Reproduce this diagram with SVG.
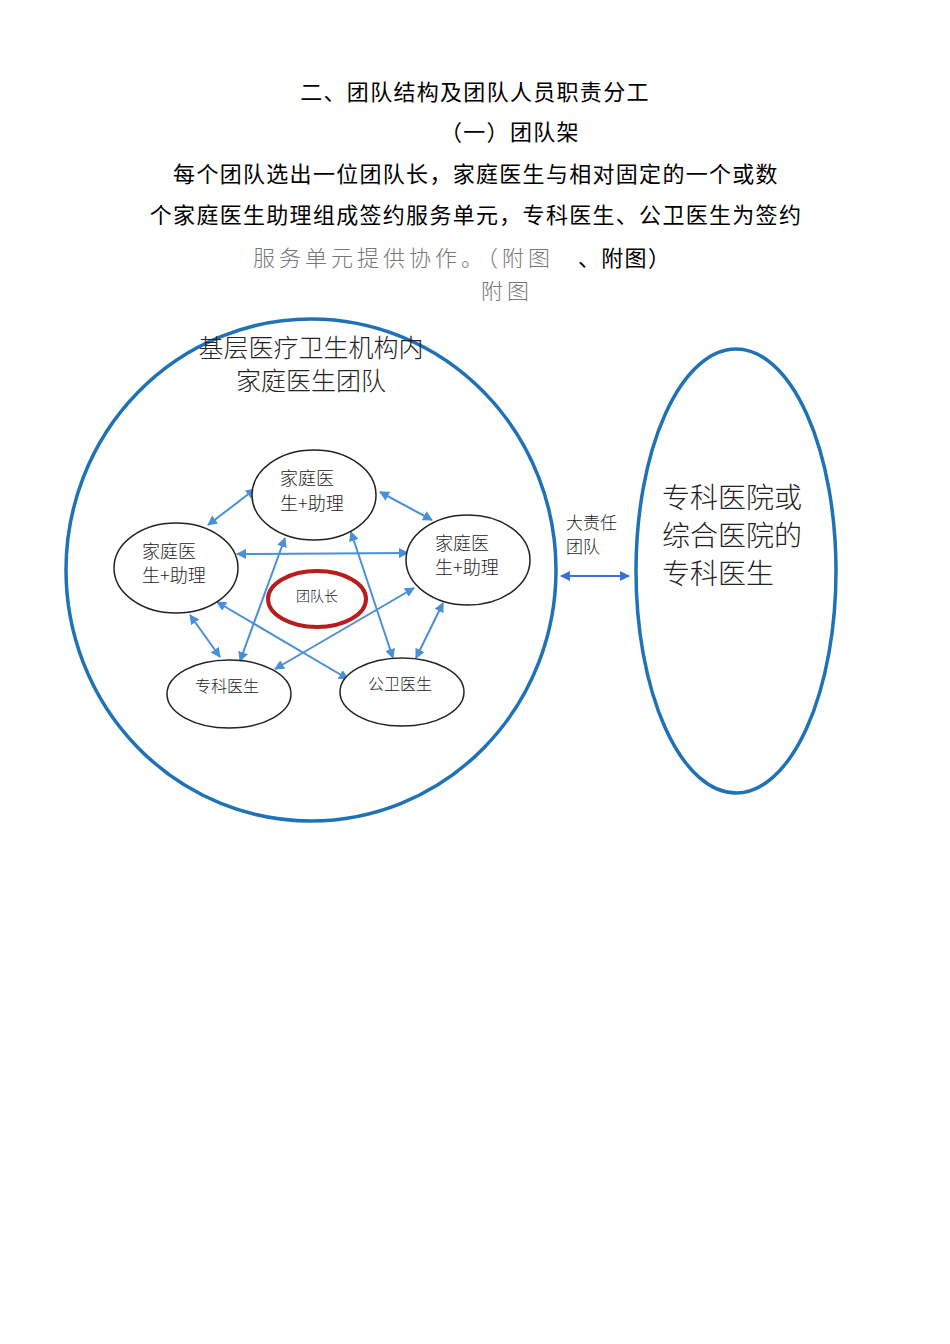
<svg xmlns="http://www.w3.org/2000/svg" width="950" height="1344" viewBox="0 0 950 1344">
<style>
.h{font-family:"Noto Sans CJK SC","Noto Sans",sans-serif;font-size:22px;fill:#000;font-weight:400;letter-spacing:1.3px;}
.g{font-family:"Noto Sans CJK SC","Noto Sans",sans-serif;font-size:22px;fill:#777;font-weight:300;letter-spacing:4px;}
.t{font-family:"Noto Sans CJK SC","Noto Sans",sans-serif;fill:#222;font-weight:300;}
.node{fill:#fff;stroke:#222;stroke-width:1.5;}
.conn{stroke:#4a90d9;stroke-width:2;fill:none;marker-start:url(#ah);marker-end:url(#ah);}
</style>
<defs>
<marker id="ah" viewBox="0 0 10 10" refX="9" refY="5" markerWidth="5" markerHeight="5" orient="auto-start-reverse" markerUnits="strokeWidth">
<path d="M0,0 L10,5 L0,10 z" fill="#4a90d9"/>
</marker>
<marker id="ah2" viewBox="0 0 10 10" refX="9" refY="5" markerWidth="4.5" markerHeight="4.5" orient="auto-start-reverse" markerUnits="strokeWidth">
<path d="M0,0 L10,5 L0,10 z" fill="#3b6fd8"/>
</marker>
</defs>
<rect width="950" height="1344" fill="#fff"/>
<g id="header">
<text class="h" x="475" y="100" text-anchor="middle">二、团队结构及团队人员职责分工</text>
<text class="h" x="440" y="140">（一）团队架</text>
<text class="h" x="476" y="182" text-anchor="middle">每个团队选出一位团队长，家庭医生与相对固定的一个或数</text>
<text class="h" x="476" y="223" text-anchor="middle">个家庭医生助理组成签约服务单元，专科医生、公卫医生为签约</text>
<text class="g" x="253" y="266">服务单元提供协作。（附图</text>
<text class="h" x="578" y="266">、附图）</text>
<text class="g" x="481" y="299">附图</text>
</g>
<g id="outer-team">
<ellipse cx="311" cy="570" rx="245" ry="251" fill="none" stroke="#1f72b8" stroke-width="3.5"/>
<text class="t" font-size="25" x="311" y="357" text-anchor="middle">基层医疗卫生机构内</text>
<text class="t" font-size="25" x="311" y="390" text-anchor="middle">家庭医生团队</text>
</g>
<g id="specialist-hospital">
<ellipse cx="736" cy="571" rx="100" ry="222" fill="none" stroke="#1f72b8" stroke-width="3.5"/>
<text class="t" font-size="28" x="662" y="508">专科医院或</text>
<text class="t" font-size="28" x="662" y="546">综合医院的</text>
<text class="t" font-size="28" x="662" y="584">专科医生</text>
</g>
<g id="connectors">
<line class="conn" x1="255" y1="489" x2="208" y2="525"/>
<line class="conn" x1="380" y1="492" x2="432" y2="520"/>
<line class="conn" x1="237" y1="554" x2="408" y2="553"/>
<line class="conn" x1="285" y1="538" x2="240" y2="661"/>
<line class="conn" x1="351" y1="532" x2="393" y2="658"/>
<line class="conn" x1="217" y1="602" x2="348" y2="679"/>
<line class="conn" x1="414" y1="588" x2="275" y2="669"/>
<line class="conn" x1="190" y1="615" x2="220" y2="657"/>
<line class="conn" x1="443" y1="603" x2="416" y2="658"/>
<line x1="561" y1="576" x2="629" y2="576" stroke="#3b6fd8" stroke-width="2.2" marker-start="url(#ah2)" marker-end="url(#ah2)"/>
<text class="t" font-size="17" x="566" y="529">大责任</text>
<text class="t" font-size="17" x="566" y="553">团队</text>
</g>
<g id="node-top">
<ellipse class="node" cx="314" cy="495" rx="62" ry="45"/>
<text class="t" font-size="18" x="280" y="485">家庭医</text>
<text class="t" font-size="18" x="280" y="510">生+助理</text>
</g>
<g id="node-left">
<ellipse class="node" cx="176" cy="568" rx="62" ry="45"/>
<text class="t" font-size="18" x="142" y="558">家庭医</text>
<text class="t" font-size="18" x="142" y="582">生+助理</text>
</g>
<g id="node-right">
<ellipse class="node" cx="468" cy="560" rx="62" ry="45"/>
<text class="t" font-size="18" x="435" y="550">家庭医</text>
<text class="t" font-size="18" x="435" y="574">生+助理</text>
</g>
<g id="node-specialist">
<ellipse class="node" cx="229" cy="694" rx="62" ry="34"/>
<text class="t" font-size="16" x="195" y="692">专科医生</text>
</g>
<g id="node-public-health">
<ellipse class="node" cx="402" cy="692" rx="62" ry="34"/>
<text class="t" font-size="16" x="368" y="690">公卫医生</text>
</g>
<g id="node-leader">
<ellipse cx="317" cy="599" rx="49" ry="28" fill="#fff" stroke="#b81c1c" stroke-width="4"/>
<text class="t" font-size="14" x="317" y="601" text-anchor="middle">团队长</text>
</g>
</svg>
